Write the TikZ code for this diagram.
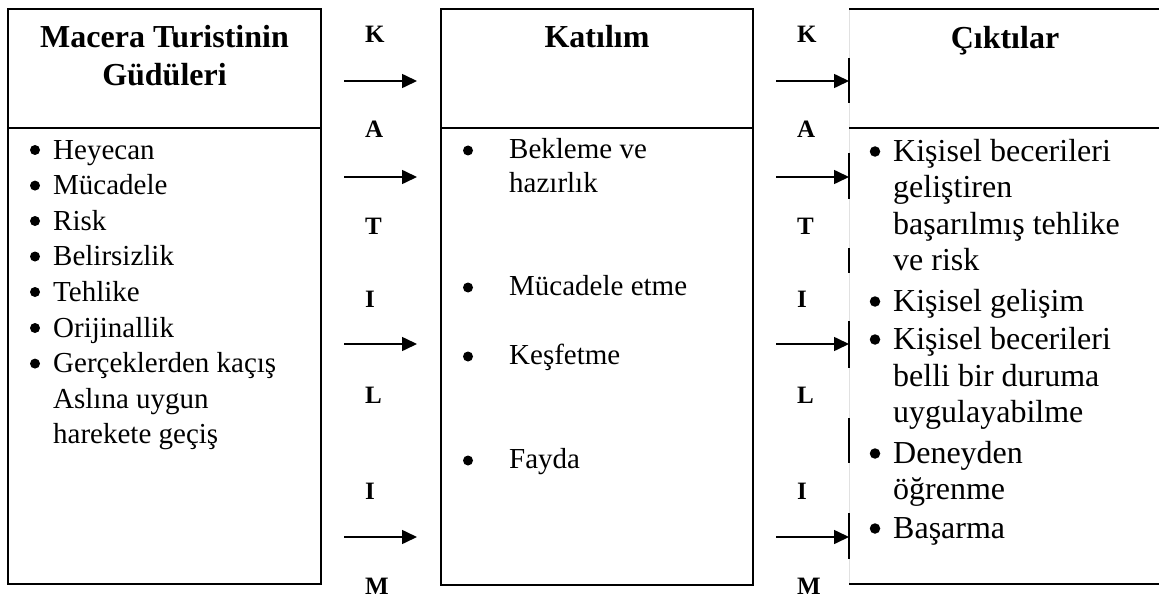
\documentclass[tikz,border=0pt]{standalone}
\usepackage{fontspec}
\setmainfont{Liberation Serif}
\usetikzlibrary{arrows.meta}
\definecolor{faint}{RGB}{225,225,225}
\begin{document}
\begin{tikzpicture}[x=1pt,y=-1pt,
  boxline/.style={line width=2pt},
  frame/.style={draw,line width=2pt,inner sep=0pt,outer sep=0pt,anchor=north west},
  conn/.style={line width=1.6pt,-{Triangle[length=15pt,width=14pt]}},
  head/.style={anchor=base,inner sep=0pt,font=\fontsize{32}{38}\selectfont\bfseries},
  lettr/.style={anchor=base west,inner sep=0pt,font=\fontsize{25}{30}\selectfont\bfseries},
  txs/.style={anchor=base west,inner sep=0pt,font=\fontsize{29}{35}\selectfont},
  txl/.style={anchor=base west,inner sep=0pt,font=\fontsize{32}{37}\selectfont},
  dot/.style={circle,fill=black,draw=none,inner sep=0pt,minimum size=10pt},
  bigdot/.style={circle,fill=black,draw=none,inner sep=0pt,minimum size=10.5pt}]
\useasboundingbox (0,0) rectangle (1159,599);
% boxes
\node[frame,minimum width=313pt,minimum height=575pt] (mot) at (8,9) {};
\node[frame,minimum width=312pt,minimum height=576pt] (kat) at (441,9) {};
\draw[boxline] (mot.west |- 0,128) -- (mot.east |- 0,128);
\draw[boxline] (kat.west |- 0,128) -- (kat.east |- 0,128);
% right box (partly cut off)
\coordinate (otl) at (849,9);
\coordinate (otr) at (1162,9);
\coordinate (obl) at (849,584);
\coordinate (obr) at (1162,584);
\draw[faint,line width=0.8pt] (otl) -- (obl);
\draw[boxline] (otl) -- (otr);
\draw[boxline] (obl) -- (obr);
\draw[boxline] (otl |- 0,128) -- (otr |- 0,128);
\foreach \a/\b in {58/103,153/199,248/273,321/368,418/463,513/559}
  \draw[boxline] (otl |- 0,\a) -- (otl |- 0,\b);
% headings
\node[head] (h1a) at (164.5,48) {Macera Turistinin};
\node[head] (h1b) at (164.5,86) {Güdüleri};
\node[head] (h2) at (597,48) {Katılım};
\node[head] (h3) at (1005,49) {Çıktılar};
% left list
\foreach \y/\t [count=\i] in {159/Heyecan,194.6/Mücadele,230/Risk,265.5/Belirsizlik,301/Tehlike,337/Orijinallik,372.6/Gerçeklerden kaçış}{
  \node[dot] (lb\i) at (35,\y-9) {};
  \node[txs] (lt\i) at (53,\y) {\t};
}
\node[txs] (lt8) at (53,408.2) {Aslına uygun};
\node[txs] (lt9) at (53,443.8) {harekete geçiş};
% middle list
\node[dot] (mb1) at (468,150.5) {};
\node[txs] (mt1) at (509,158) {Bekleme ve};
\node[txs] (mt1b) at (509,192.5) {hazırlık};
\node[dot] (mb2) at (468,287.5) {};
\node[txs] (mt2) at (509,295) {Mücadele etme};
\node[dot] (mb3) at (468,356.5) {};
\node[txs] (mt3) at (509,364) {Keşfetme};
\node[dot] (mb4) at (468,460.5) {};
\node[txs] (mt4) at (509,468) {Fayda};
% right list
\node[bigdot] (rb1) at (875,151.5) {};
\node[txl] (rt1) at (893,161) {Kişisel becerileri};
\node[txl] (rt1b) at (893,197) {geliştiren};
\node[txl] (rt1c) at (893,234) {başarılmış tehlike};
\node[txl] (rt1d) at (893,270) {ve risk};
\node[bigdot] (rb2) at (875,301.5) {};
\node[txl] (rt2) at (893,311) {Kişisel gelişim};
\node[bigdot] (rb3) at (875,339.5) {};
\node[txl] (rt3) at (893,349) {Kişisel becerileri};
\node[txl] (rt3b) at (893,386) {belli bir duruma};
\node[txl] (rt3c) at (893,422) {uygulayabilme};
\node[bigdot] (rb4) at (875,453.5) {};
\node[txl] (rt4) at (893,463) {Deneyden};
\node[txl] (rt4b) at (893,499) {öğrenme};
\node[bigdot] (rb5) at (875,528.5) {};
\node[txl] (rt5) at (893,538) {Başarma};
% vertical letters
\foreach \y/\l [count=\i] in {43/K,138/A,234/T,307/I,403/L,499/I,594/M}{
  \node[lettr] (la\i) at (365,\y) {\l};
  \node[lettr] (lc\i) at (797,\y) {\l};
}
% arrows
\foreach \y [count=\i] in {81,177,344,537}{
  \coordinate (as\i) at (344,\y);
  \coordinate (ae\i) at (417,\y);
  \coordinate (bs\i) at (776,\y);
  \draw[conn] (as\i) -- (ae\i);
  \draw[conn] (bs\i) -- (otl |- bs\i);
}
\end{tikzpicture}
\end{document}
